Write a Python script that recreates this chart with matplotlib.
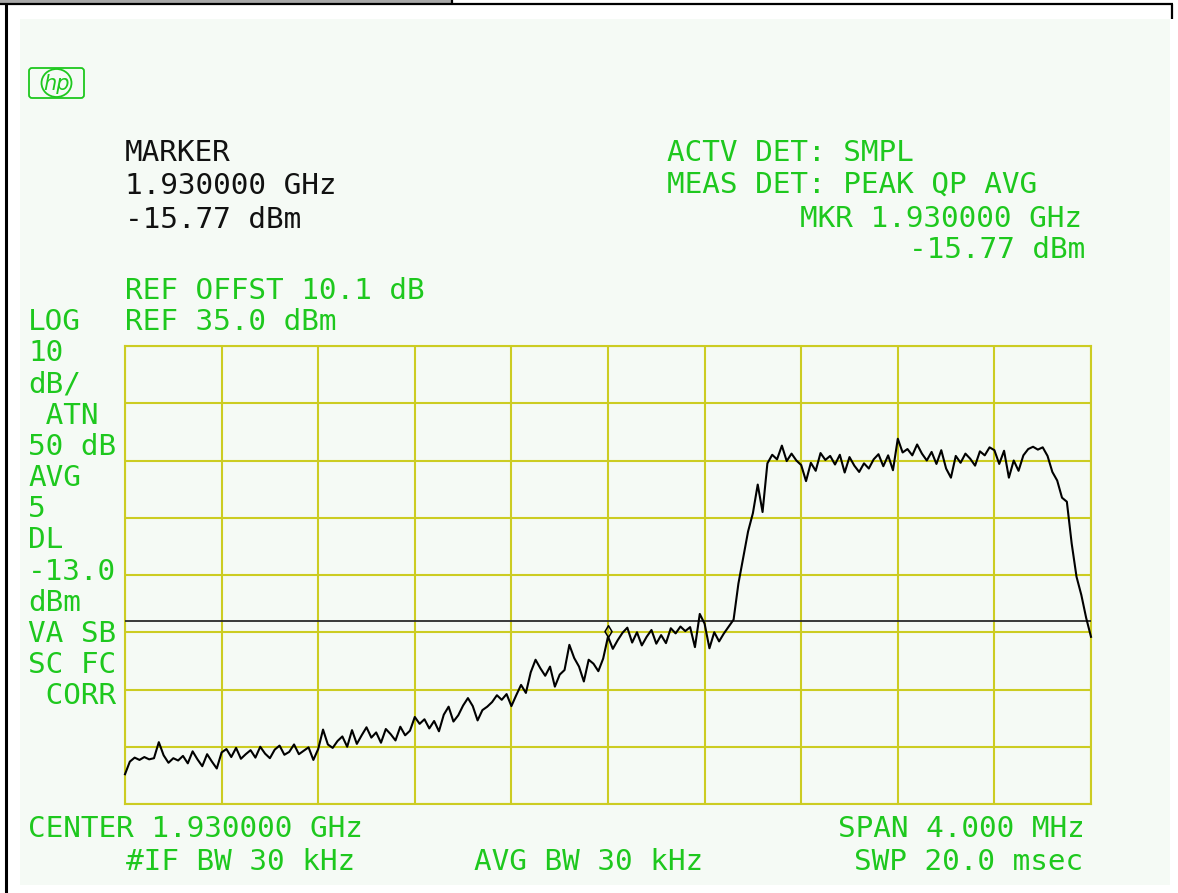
import numpy as np
import matplotlib
matplotlib.use("Agg")
import matplotlib.pyplot as plt
from matplotlib.patches import Rectangle, FancyBboxPatch, Ellipse
from matplotlib.path import Path

# ---------------- data ----------------
center_ghz = 1.930000
span_mhz = 4.0
ref_level_dbm = 35.0
db_per_div = 10
n_vdiv = 8
n_hdiv = 10
display_line_dbm = -13.0
marker_offset_mhz = 0.0
marker_dbm = -15.77

trace_dbm = [
    -39.8, -37.6, -36.9, -37.3, -36.8, -37.2, -37.0, -34.2, -36.5, -37.8,
    -37.0, -37.4, -36.6, -37.9, -35.8, -37.2, -38.4, -36.3, -37.6, -38.8,
    -36.0, -35.4, -36.8, -35.2, -37.1, -36.3, -35.6, -36.9, -35.0, -36.2,
    -37.0, -35.5, -34.8, -36.4, -35.9, -34.6, -36.3, -35.7, -35.1, -37.3,
    -35.4, -32.0, -34.6, -35.2, -34.0, -33.2, -35.0, -32.1, -34.5, -33.0,
    -31.6, -33.4, -32.5, -34.3, -31.9, -32.8, -33.9, -31.5, -33.0, -32.2,
    -29.8, -31.0, -30.2, -31.8, -30.5, -32.3, -29.4, -28.0, -30.6, -29.5,
    -27.8, -26.5, -27.9, -30.4, -28.6, -28.0, -27.2, -26.0, -26.8, -25.8,
    -27.9, -26.0, -24.2, -25.6, -22.0, -19.8, -21.3, -22.6, -21.0, -24.5,
    -22.4, -21.6, -17.2, -19.5, -21.0, -23.6, -19.8, -20.5, -21.8, -19.6,
    -15.77, -17.9, -16.4, -15.1, -14.2, -16.8, -15.0, -17.3, -15.8, -14.6,
    -17.0, -15.5, -16.9, -14.3, -15.2, -14.0, -14.8, -14.1, -17.6, -11.8,
    -13.5, -17.8, -15.0, -16.6, -15.2, -14.0, -12.8, -6.5, -2.0, 2.6,
    5.8, 10.8, 6.0, 14.5, 16.0, 15.2, 17.6, 14.9, 16.2, 15.0,
    14.2, 11.4, 14.6, 13.2, 16.3, 15.1, 15.8, 14.3, 16.0, 12.9,
    15.6, 14.1, 13.0, 14.5, 13.6, 15.2, 16.1, 14.0, 15.9, 13.3,
    18.8, 16.4, 17.0, 15.9, 17.8, 16.2, 15.0, 16.5, 14.4, 16.8,
    13.6, 12.0, 15.8, 14.6, 16.2, 15.3, 14.1, 16.6, 15.9, 17.3,
    16.8, 14.4, 16.7, 12.0, 15.0, 13.2, 15.9, 17.0, 17.4, 16.9,
    17.3, 15.8, 13.0, 11.5, 8.5, 7.8, 0.5, -5.3, -8.5, -12.5,
    -15.8,
]

marker_lines = ["MARKER", "1.930000 GHz", "-15.77 dBm"]
ref_lines = ["REF OFFST 10.1 dB", "REF 35.0 dBm"]
left_annot = ["LOG", "10", "dB/", " ATN", "50 dB", "AVG", "5", "DL",
              "-13.0", "dBm", "VA SB", "SC FC", " CORR"]
det_lines = ["ACTV DET: SMPL", "MEAS DET: PEAK QP AVG"]
mkr_lines = ["MKR 1.930000 GHz", "-15.77 dBm"]
bottom_left = ["CENTER 1.930000 GHz", "#IF BW 30 kHz"]
bottom_mid = "AVG BW 30 kHz"
bottom_right = ["SPAN 4.000 MHz", "SWP 20.0 msec"]

# ---------------- style ----------------
W, H = 1178, 893
GREEN = "#1ec81e"
GRID = "#cccc22"
PANEL = "#f5faf5"
FONT = "DejaVu Sans Mono"
FS = 21.2

fig = plt.figure(figsize=(W / 100, H / 100), dpi=100)
fig.patch.set_facecolor("white")

# background / frame layer in pixel coordinates
bg = fig.add_axes([0, 0, 1, 1])
bg.set_xlim(0, W)
bg.set_ylim(H, 0)
bg.axis("off")
bg.add_patch(Rectangle((20, 19), 1150, 866, facecolor=PANEL, edgecolor="none"))
bg.add_patch(Rectangle((0, 0), 452, 3, facecolor="#a8a8a8", edgecolor="none"))
bg.plot([0, 1173], [4, 4], color="black", lw=1.6, solid_capstyle="butt")
bg.plot([6, 6], [4, H], color="black", lw=2.2, solid_capstyle="butt")
bg.plot([452, 452], [0, 4], color="black", lw=1.6, solid_capstyle="butt")
bg.plot([1172, 1172], [4, 19], color="black", lw=1.6, solid_capstyle="butt")

# HP logo
bg.add_patch(FancyBboxPatch((29, 68), 55, 30, boxstyle="round,pad=0,rounding_size=3",
                            facecolor="none", edgecolor=GREEN, lw=1.3))
bg.add_patch(Ellipse((56.5, 83), 30, 28, facecolor=PANEL, edgecolor=GREEN, lw=1.3))
bg.text(56.5, 84, "hp", color=GREEN, fontsize=15, style="italic",
        family="DejaVu Sans", ha="center", va="center")


def txt(x, top, s, color=GREEN):
    bg.text(x, top + 22, s, color=color, family=FONT, fontsize=FS,
            ha="left", va="baseline")


for i, s in enumerate(marker_lines):
    txt(125, [139, 172, 206][i], s, color="#111111")
txt(125, 277, ref_lines[0])
txt(125, 308, ref_lines[1])
for k, s in enumerate(left_annot):
    txt(28, 308 + k * 31.2, s)
txt(667, 139, det_lines[0])
txt(667, 171, det_lines[1])
txt(800, 205, mkr_lines[0])
txt(909, 236, mkr_lines[1])
txt(28, 815, bottom_left[0])
txt(126, 848, bottom_left[1])
txt(474, 848, bottom_mid)
txt(838, 815, bottom_right[0])
txt(854, 848, bottom_right[1])

# ---------------- main graticule ----------------
x0, x1, y0, y1 = 125, 1091, 346, 804
ax = fig.add_axes([x0 / W, 1 - y1 / H, (x1 - x0) / W, (y1 - y0) / H])
ax.set_facecolor("none")
half = span_mhz / 2
bottom_level = ref_level_dbm - n_vdiv * db_per_div
ax.set_xlim(-half, half)
ax.set_ylim(bottom_level, ref_level_dbm)
ax.set_xticks(np.linspace(-half, half, n_hdiv + 1))
ax.set_yticks(np.arange(bottom_level, ref_level_dbm + 1, db_per_div))
ax.grid(True, color=GRID, lw=1.5)
ax.tick_params(length=0, labelbottom=False, labelleft=False)
for sp in ax.spines.values():
    sp.set_color(GRID)
    sp.set_linewidth(1.5)

freq = np.linspace(-half, half, len(trace_dbm))
ax.axhline(display_line_dbm, color="#2a2a2a", lw=1.3, zorder=3)
ax.plot(freq, trace_dbm, color="black", lw=1.5, zorder=4, clip_on=False)

diamond = Path([(0, 0), (-0.6, 1), (0, 2), (0.6, 1), (0, 0)],
               [Path.MOVETO, Path.LINETO, Path.LINETO, Path.LINETO, Path.CLOSEPOLY])
ax.plot([marker_offset_mhz], [marker_dbm], marker=diamond, markersize=17,
        mfc="none", mec="black", mew=1.1, ls="none", zorder=5, clip_on=False)

fig.savefig("out.png", dpi=100, facecolor="white")
